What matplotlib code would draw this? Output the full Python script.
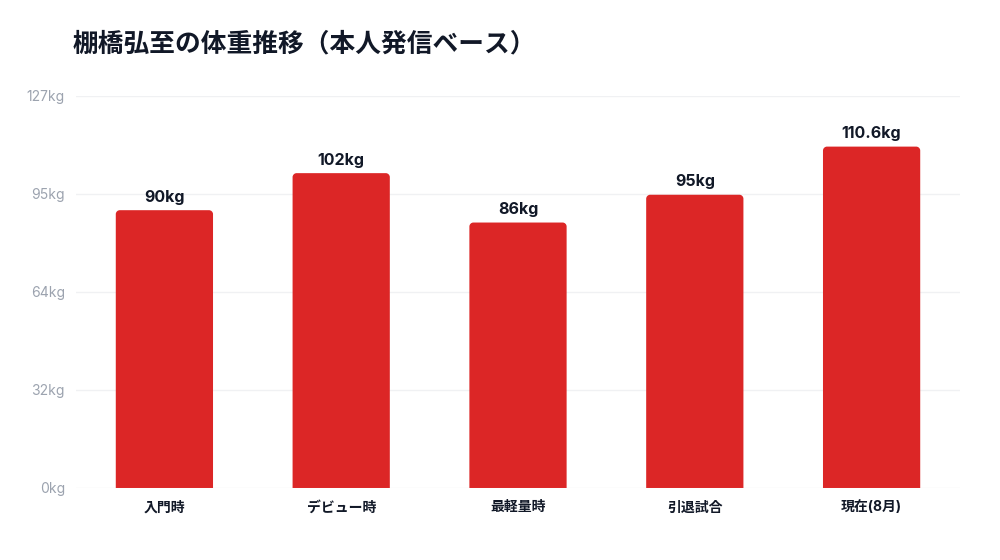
import matplotlib
matplotlib.use("Agg")
import matplotlib.pyplot as plt
from matplotlib.path import Path
from matplotlib.patches import PathPatch

plt.rcParams['font.family'] = ['Inter', 'Noto Sans CJK JP', 'DejaVu Sans']

categories = ['入門時', 'デビュー時', '最軽量時', '引退試合', '現在(8月)']
weights = [90, 102, 86, 95, 110.6]
value_labels = ['90kg', '102kg', '86kg', '95kg', '110.6kg']
y_max = 127
y_ticks = [0, 31.75, 63.5, 95.25, 127]
y_tick_labels = ['0kg', '32kg', '64kg', '95kg', '127kg']

bar_color = '#DC2626'
text_dark = '#111827'

fig = plt.figure(figsize=(10, 5.6), dpi=100)
ax = fig.add_axes([0.076, 0.1286, 0.884, 0.7])
ax.set_xlim(-0.5, len(categories) - 0.5)
ax.set_ylim(0, y_max)

bars = ax.bar(range(len(categories)), weights, width=0.55, color=bar_color, zorder=2)

# rounded top corners: swap each rectangle for a path
fig.canvas.draw()
px_x = (ax.get_xlim()[1] - ax.get_xlim()[0]) / (ax.get_window_extent().width)
px_y = (ax.get_ylim()[1] - ax.get_ylim()[0]) / (ax.get_window_extent().height)
r = 4
k = 0.5523
for b in bars:
    x0, w, h = b.get_x(), b.get_width(), b.get_height()
    rx, ry = r * px_x, r * px_y
    x1 = x0 + w
    verts = [(x0, 0), (x0, h - ry),
             (x0, h - ry + k * ry), (x0 + rx - k * rx, h), (x0 + rx, h),
             (x1 - rx, h),
             (x1 - rx + k * rx, h), (x1, h - ry + k * ry), (x1, h - ry),
             (x1, 0), (x0, 0)]
    codes = [Path.MOVETO, Path.LINETO,
             Path.CURVE4, Path.CURVE4, Path.CURVE4,
             Path.LINETO,
             Path.CURVE4, Path.CURVE4, Path.CURVE4,
             Path.LINETO, Path.CLOSEPOLY]
    ax.add_patch(PathPatch(Path(verts, codes), facecolor=bar_color, edgecolor='none', zorder=2))
    b.remove()

for i, (v, lab) in enumerate(zip(weights, value_labels)):
    ax.annotate(lab, (i, v), xytext=(0, 4), textcoords='offset points',
                ha='center', va='bottom', fontsize=11.5, fontweight='bold', color=text_dark)

ax.set_yticks(y_ticks)
ax.set_yticklabels(y_tick_labels)
ax.set_xticks(range(len(categories)))
ax.set_xticklabels(categories, fontweight='bold', fontsize=10, color=text_dark)
ax.tick_params(axis='y', length=0, pad=8, labelsize=10, labelcolor='#9CA3AF')
ax.tick_params(axis='x', length=0, pad=9)
ax.grid(axis='y', color='#F0F1F3', linewidth=1, zorder=0)
for s in ax.spines.values():
    s.set_visible(False)

fig.text(0.073, 0.922, '棚橋弘至の体重推移（本人発信ベース）', fontsize=18.5, fontweight='bold',
         color=text_dark, ha='left', va='center',
         family=['Noto Sans CJK JP', 'DejaVu Sans'])

fig.savefig('out.png', dpi=100)
